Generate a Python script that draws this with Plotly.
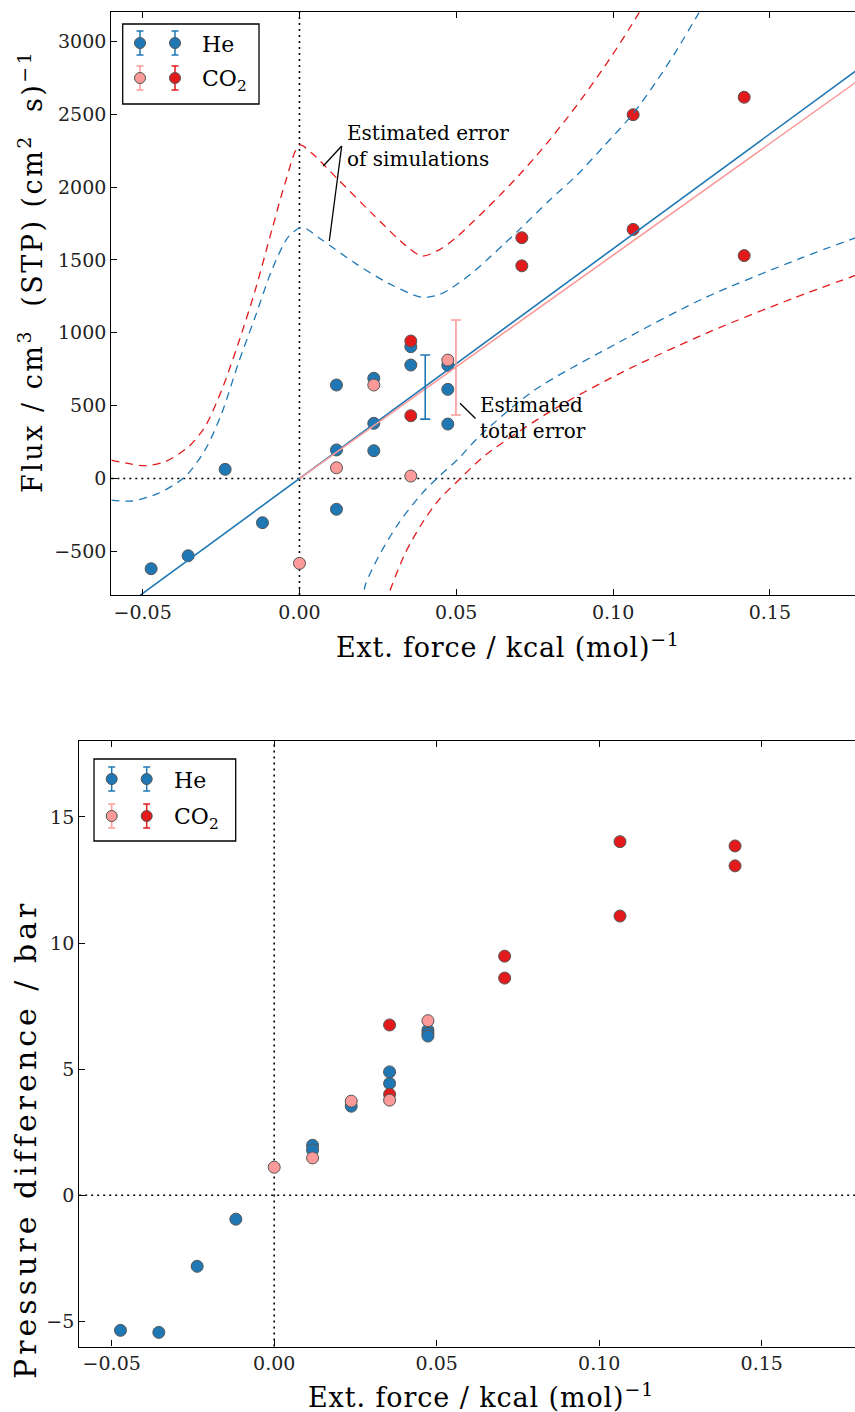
import plotly.graph_objects as go

W, H = 855, 1412
BLUE = "#1f78b4"
RED = "#e31a1c"
PINK = "#fb9a99"
EDGE = "#555555"
FONT = "DejaVu Serif"

# ---------------- data: flux (top panel) ----------------
he_x = [-0.0473, -0.0355, -0.0237, -0.0118, 0.0118, 0.0118, 0.0118, 0.0237, 0.0237, 0.0237,
        0.0355, 0.0355, 0.0473, 0.0473, 0.0473]
he_flux = [-619, -530, 63, -303, 642, 196, -211, 688, 379, 191, 905, 779, 777, 612, 374]

co2a_x = [0.0, 0.0118, 0.0237, 0.0355, 0.0473]          # light (pink) CO2 series
co2a_flux = [-582, 74, 642, 17, 813]
co2b_x = [0.0355, 0.0355, 0.0709, 0.0709, 0.1064, 0.1064, 0.1418, 0.1418]   # dark red CO2 series
co2b_flux = [944, 431, 1653, 1460, 2497, 1710, 2617, 1530]

# linear fits through origin (slopes)
he_fit_x = [-0.07, 0.19]
he_slope = 15772
co2_fit_x = [0.0, 0.19]
co2_slope = 15330

# estimated total error bars
tot_err_x_he, tot_err_y_he, tot_err_he = [0.0401], [628], [220]
tot_err_x_co2, tot_err_y_co2, tot_err_co2 = [0.0499], [762], [326]

# estimated error of simulations (dashed envelopes)
he_up_x = [-0.060, -0.0535, -0.045, -0.0365, -0.0301, -0.0248, -0.0195, -0.0141, -0.0088, -0.0035,
           0.0008, 0.0072, 0.0178, 0.0284, 0.0391, 0.0450, 0.0500, 0.0550, 0.0600, 0.0650,
           0.0705, 0.0800, 0.0886, 0.0970, 0.1063, 0.1141, 0.1200, 0.1269, 0.1300]
he_up_y = [-148, -154, -102, 12, 196, 447, 791, 1111, 1431, 1660,
           1724, 1637, 1477, 1340, 1244, 1265, 1330, 1410, 1505, 1605,
           1717, 1915, 2085, 2280, 2502, 2735, 2930, 3179, 3290]
co2_up_x = [-0.060, -0.0493, -0.0429, -0.0354, -0.0301, -0.0248, -0.0195, -0.0141, -0.0088, -0.0046,
            0.0, 0.0040, 0.0125, 0.0231, 0.0337, 0.0391, 0.0444, 0.0500, 0.0550, 0.0600,
            0.0650, 0.0700, 0.0750, 0.0800, 0.0850, 0.0900, 0.0950, 0.1000, 0.1050, 0.1100]
co2_up_y = [127, 88, 115, 218, 356, 607, 928, 1294, 1706, 2026,
            2289, 2232, 2049, 1820, 1602, 1527, 1568, 1655, 1755, 1860,
            1968, 2082, 2202, 2330, 2465, 2607, 2757, 2915, 3082, 3258]
he_lo_x = [0.0200, 0.0210, 0.0252, 0.0316, 0.0391, 0.0444, 0.0508, 0.0572, 0.0747, 0.1022,
           0.1289, 0.1597, 0.1780]
he_lo_y = [-860, -731, -537, -307, -102, 12, 139, 287, 603, 939,
           1237, 1511, 1658]
co2_lo_x = [0.0278, 0.0284, 0.0337, 0.0391, 0.0444, 0.0508, 0.0593, 0.0807, 0.1022, 0.1300,
            0.1574, 0.1780]
co2_lo_y = [-860, -800, -513, -307, -148, -10, 161, 470, 722, 1000,
            1237, 1400]

# ---------------- data: pressure difference (bottom panel) ----------------
he_p_x = [-0.0473, -0.0355, -0.0237, -0.0118, 0.0118, 0.0118, 0.0237, 0.0355, 0.0355,
          0.0473, 0.0473, 0.0473]
he_p = [-5.36, -5.44, -2.82, -0.95, 1.98, 1.79, 3.53, 4.89, 4.43, 6.55, 6.42, 6.31]
co2a_p_x = [0.0, 0.0118, 0.0237, 0.0355, 0.0473]
co2a_p = [1.11, 1.48, 3.73, 3.77, 6.92]
co2b_p_x = [0.0355, 0.0355, 0.0709, 0.0709, 0.1064, 0.1064, 0.1418, 0.1418]
co2b_p = [6.75, 4.00, 9.48, 8.61, 14.02, 11.07, 13.85, 13.06]

x_ticks = [-0.05, 0.0, 0.05, 0.10, 0.15]
flux_ticks = [-500, 0, 500, 1000, 1500, 2000, 2500, 3000]
p_ticks = [-5, 0, 5, 10, 15]

# ---------------- layout geometry (pixels) ----------------
def px_x(p):
    return p / W

def px_y(p):
    return 1 - p / H

top_dom_x = [px_x(111.3), 1.0]
top_dom_y = [px_y(595.1), px_y(12.3)]
bot_dom_x = [px_x(79.2), 1.0]
bot_dom_y = [px_y(1346.5), px_y(741.3)]
top_xr = [-0.06, (W - 299.5) / 3136]
bot_xr = [-0.06, (W - 274.2) / 3250]

fig = go.Figure()

def pts(x, y, color, xa, ya):
    fig.add_trace(go.Scatter(x=x, y=y, mode="markers", xaxis=xa, yaxis=ya, showlegend=False,
                             marker=dict(size=12, color=color, line=dict(color=EDGE, width=1)),
                             cliponaxis=True))

def dashed(x, y, color):
    fig.add_trace(go.Scatter(x=x, y=y, mode="lines", xaxis="x", yaxis="y", showlegend=False,
                             line=dict(color=color, width=1.3, dash="8px,6px", shape="spline",
                                       smoothing=0.8)))

# top panel markers
pts(he_x, he_flux, BLUE, "x", "y")
pts(co2b_x, co2b_flux, RED, "x", "y")
pts(co2a_x, co2a_flux, PINK, "x", "y")

# fit lines
fig.add_trace(go.Scatter(x=he_fit_x, y=[he_slope * v for v in he_fit_x], mode="lines",
                         line=dict(color=BLUE, width=1.6), showlegend=False, xaxis="x", yaxis="y"))
fig.add_trace(go.Scatter(x=co2_fit_x, y=[co2_slope * v for v in co2_fit_x], mode="lines",
                         line=dict(color=PINK, width=1.6), showlegend=False, xaxis="x", yaxis="y"))

# simulation error envelopes
dashed(he_up_x, he_up_y, BLUE)
dashed(he_lo_x, he_lo_y, BLUE)
dashed(co2_up_x, co2_up_y, RED)
dashed(co2_lo_x, co2_lo_y, RED)

# estimated total error bars
for ex, ey, ee, col in [(tot_err_x_he, tot_err_y_he, tot_err_he, BLUE),
                        (tot_err_x_co2, tot_err_y_co2, tot_err_co2, PINK)]:
    fig.add_trace(go.Scatter(x=ex, y=ey, mode="markers", xaxis="x", yaxis="y", showlegend=False,
                             marker=dict(size=1, color="rgba(0,0,0,0)"),
                             error_y=dict(type="data", array=ee, color=col, thickness=1.6, width=5)))

# bottom panel markers
pts(he_p_x, he_p, BLUE, "x2", "y2")
pts(co2b_p_x, co2b_p, RED, "x2", "y2")
pts(co2a_p_x, co2a_p, PINK, "x2", "y2")

# ---------------- legends (drawn on a pixel overlay axis) ----------------
def legend(box, cols, rows, text_x):
    x0, y0, x1, y1 = box
    fig.add_shape(type="rect", xref="x3", yref="y3", x0=x0, y0=y0, x1=x1, y1=y1,
                  line=dict(color="black", width=1.3), fillcolor="rgba(0,0,0,0)", layer="above")
    styles = [((BLUE, BLUE), (BLUE, BLUE)), ((PINK, PINK), (RED, RED))]
    for r, ry in enumerate(rows):
        for c, cx in enumerate(cols):
            mcol, ecol = styles[r][c]
            fig.add_trace(go.Scatter(x=[cx], y=[ry], mode="markers", xaxis="x3", yaxis="y3",
                                     showlegend=False,
                                     marker=dict(size=11, color=mcol, line=dict(color=EDGE, width=1)),
                                     error_y=dict(type="data", array=[12], color=ecol,
                                                  thickness=1.5, width=3.5)))
    fig.add_annotation(x=text_x, y=rows[0] + 1, xref="x3", yref="y3", text="He", showarrow=False,
                       xanchor="left", yanchor="middle", font=dict(family=FONT, size=22, color="black"))
    fig.add_annotation(x=text_x, y=rows[1] + 2, xref="x3", yref="y3", text="CO<sub>2</sub>",
                       showarrow=False, xanchor="left", yanchor="middle",
                       font=dict(family=FONT, size=22, color="black"))

legend((122.7, 24, 259, 104), [140, 175], [43, 78], 200)
legend((94, 759, 235.7, 841), [111.7, 146.7], [779, 816], 172)

# pointer lines and notes
for (a, b, c, d) in [(341.7, 146, 323.3, 166), (341.7, 146, 329.3, 241), (460, 403.3, 475.5, 418.5)]:
    fig.add_shape(type="line", xref="x3", yref="y3", x0=a, y0=b, x1=c, y1=d,
                  line=dict(color="black", width=1.3))
fig.add_annotation(x=345, y=146, xref="x3", yref="y3",
                   text="Estimated error<br>of simulations", showarrow=False, align="left",
                   xanchor="left", yanchor="middle", font=dict(family=FONT, size=20, color="black"))
fig.add_annotation(x=478, y=418, xref="x3", yref="y3",
                   text="Estimated<br>total error", showarrow=False, align="left",
                   xanchor="left", yanchor="middle", font=dict(family=FONT, size=20, color="black"))

# axis titles
def spaced(t, px):
    return '<span style="letter-spacing:%spx">%s</span>' % (px, t)

fig.add_annotation(x=508, y=645, xref="x3", yref="y3",
                   text=spaced("Ext. force / kcal (mol)<sup>−1</sup>", 0.8), showarrow=False,
                   font=dict(family=FONT, size=27, color="black"))
fig.add_annotation(x=481, y=1395, xref="x3", yref="y3",
                   text=spaced("Ext. force / kcal (mol)<sup>−1</sup>", 0.9), showarrow=False,
                   font=dict(family=FONT, size=27, color="black"))
fig.add_annotation(x=30, y=272, xref="x3", yref="y3", textangle=-90,
                   text=spaced("Flux / cm<sup>3</sup>\u00a0 (STP) (cm<sup>2</sup>\u00a0 s)<sup>−1</sup>", 2.5),
                   showarrow=False, font=dict(family=FONT, size=27, color="black"))
fig.add_annotation(x=25, y=1140, xref="x3", yref="y3", textangle=-90,
                   text=spaced("Pressure difference / bar", 4),
                   showarrow=False, font=dict(family=FONT, size=30, color="black"))

# dotted zero lines
for xr, yr in [("x", "y"), ("x2", "y2")]:
    fig.add_shape(type="line", xref=xr, yref=yr + " domain", x0=0, x1=0, y0=0, y1=1,
                  line=dict(color="black", width=1.6, dash="2px,4px"), layer="below")
    fig.add_shape(type="line", xref=xr + " domain", yref=yr, x0=0, x1=1, y0=0, y1=0,
                  line=dict(color="black", width=1.6, dash="2px,4px"), layer="below")

tickfont = dict(family=FONT, size=19, color="#222222")
common_x = dict(showline=True, linecolor="black", linewidth=1.3, mirror="ticks", ticks="inside",
                ticklen=6, tickwidth=1, tickcolor="black", showgrid=False, zeroline=False,
                tickvals=x_ticks, tickformat=".2f", tickfont=tickfont)
common_y = dict(showline=True, linecolor="black", linewidth=1.3, mirror=False, ticks="inside",
                ticklen=6, tickwidth=1, tickcolor="black", showgrid=False, zeroline=False,
                tickfont=tickfont)

fig.update_layout(
    width=W, height=H, margin=dict(l=0, r=0, t=0, b=0),
    paper_bgcolor="white", plot_bgcolor="rgba(0,0,0,0)",
    showlegend=False,
    xaxis=dict(domain=top_dom_x, range=top_xr, anchor="y", **common_x),
    yaxis=dict(domain=top_dom_y, range=[-800, 3200], anchor="x", tickvals=flux_ticks, **common_y),
    xaxis2=dict(domain=bot_dom_x, range=bot_xr, anchor="y2", **common_x),
    yaxis2=dict(domain=bot_dom_y, range=[-6, 18], anchor="x2", tickvals=p_ticks, **common_y),
    xaxis3=dict(domain=[0, 1], range=[0, W], anchor="y3", visible=False, fixedrange=True),
    yaxis3=dict(domain=[0, 1], range=[H, 0], anchor="x3", visible=False, fixedrange=True),
)

fig.write_html("out.html")
